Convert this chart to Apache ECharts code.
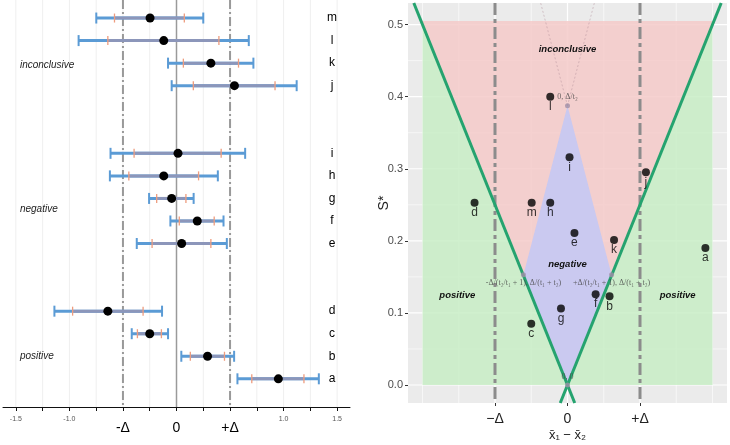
<!DOCTYPE html>
<html><head><meta charset="utf-8">
<script src="https://cdn.jsdelivr.net/npm/echarts@6/dist/echarts.min.js"></script>
<style>html,body{margin:0;padding:0;background:#fff}#c{width:730px;height:445px}</style>
</head><body><div id="c"></div><script>
// ---------- data ----------
const studies   = ['a','b','c','d','e','f','g','h','i','j','k','l','m'];
const studyGroup = ['positive','positive','positive','positive','negative','negative','negative','negative','negative','inconclusive','inconclusive','inconclusive','inconclusive'];
const meanDiff  = [0.951, 0.290, -0.250, -0.641, 0.048, 0.194, -0.045, -0.119, 0.014, 0.541, 0.321, -0.119, -0.247];
const ci95Low   = [0.569, 0.045, -0.418, -1.140, -0.371, -0.057, -0.256, -0.622, -0.616, -0.045, -0.079, -0.914, -0.749];
const ci95High  = [1.329, 0.538, -0.079, -0.135, 0.470, 0.439, 0.160, 0.386, 0.641, 1.122, 0.718, 0.675, 0.250];
const ci80Low   = [0.703, 0.129, -0.365, -0.970, -0.228, 0.026, -0.185, -0.445, -0.396, 0.157, 0.064, -0.641, -0.579];
const ci80High  = [1.190, 0.448, -0.141, -0.312, 0.321, 0.352, 0.088, 0.206, 0.417, 0.920, 0.579, 0.396, 0.073];
const sStar     = [0.190, 0.123, 0.085, 0.253, 0.211, 0.126, 0.106, 0.253, 0.316, 0.295, 0.201, 0.400, 0.253];
const delta = 0.5;

const leftTicks       = [-1.5,-1.25,-1,-0.75,-0.5,-0.25,0,0.25,0.5,0.75,1,1.25,1.5];
const leftLabelValues = [-1.5,-1,-0.5,0,0.5,1,1.5];
const leftLabelTexts  = ['-1.5','-1.0','-Δ','0','+Δ','1.0','1.5'];
const groupNames      = ['inconclusive','negative','positive'];

const rightXTicks  = [-0.5,0,0.5];
const rightXLabels = ['\u2212Δ','0','+Δ'];
const rightXMinor  = [-1,-0.75,-0.25,0.25,0.75,1];
const rightYTicks  = [0,0.1,0.2,0.3,0.4,0.5];
const rightYLabels = ['0.0','0.1','0.2','0.3','0.4','0.5'];
const rightYMinor  = [0.05,0.15,0.25,0.35,0.45];

const positiveRegionLeft  = [[-1,0],[0,0],[-1,0.5]];
const positiveRegionRight = [[1,0],[0,0],[1,0.5]];
const inconclusiveRegion  = [[0,0],[-1,0.5],[-1,0.505],[1,0.505],[1,0.5]];
const negativeRegion      = [[0,0.3875],[-0.304,0.153],[0,0],[0.304,0.153]];
const boundaryLines       = [[[0.05,-0.025],[-1.06,0.53]], [[-0.05,-0.025],[1.06,0.53]]];
const apexExtensions      = [[[0,0.3875],[-0.185,0.53]], [[0,0.3875],[0.185,0.53]]];
const keyPoints     = [[0,0.3875],[-0.304,0.153],[0.304,0.153],[0,0]];
const keyLabels     = ['0, Δ/t\u2082','-Δ/(t\u2082/t\u2081 + 1), Δ/(t\u2081 + t\u2082)','+Δ/(t\u2082/t\u2081 + 1), Δ/(t\u2081 + t\u2082)','0, 0'];
const regionLabels  = ['inconclusive','negative','positive','positive'];

// ---------- layout helpers ----------
const slots = []; let s = 0;
studies.forEach((st, i) => { if (i > 0 && studyGroup[i] !== studyGroup[i-1]) s += 2; slots.push(s); s += 1; });
const groupLabelSlot = {positive: 1, negative: 7.5, inconclusive: 13.9};
const regionLabelPos = [[0,0.465],[0,0.167],[-0.76,0.125],[0.76,0.125]];
const keyLabelPos = ['top','bottom','bottom','top'];

const FONT = 'Liberation Sans';

function refLines(xi, yi, values, vertical, styleFn, z) {
  return {
    type:'custom', xAxisIndex:xi, yAxisIndex:yi, silent:true, z:z,
    data: values.map(v => [v, 0]),
    encode: vertical ? {x:0, y:1} : {x:1, y:0},
    renderItem(params, api) {
      const cs = params.coordSys, v = api.value(0), st = styleFn(v, params.dataIndex);
      if (vertical) {
        const x = api.coord([v, 0])[0];
        return {type:'line', shape:{x1:x, y1:cs.y, x2:x, y2:cs.y+cs.height}, style:st};
      }
      const y = api.coord([0, v])[1];
      return {type:'line', shape:{x1:cs.x, y1:y, x2:cs.x+cs.width, y2:y}, style:st};
    }
  };
}
function polygonSeries(points, fill, z) {
  return {
    type:'custom', xAxisIndex:1, yAxisIndex:1, silent:true, z:z,
    data:[[points[0][0], points[0][1]]], encode:{x:0, y:1},
    renderItem(params, api) {
      return {type:'polygon', shape:{points: points.map(p => api.coord(p))}, style:{fill:fill}};
    }
  };
}
function segSeries(segs, style, z) {
  return {
    type:'custom', xAxisIndex:1, yAxisIndex:1, silent:true, z:z,
    data: segs.map(sg => [sg[0][0], sg[0][1]]), encode:{x:0, y:1},
    renderItem(params, api) {
      const sg = segs[params.dataIndex];
      const a = api.coord(sg[0]), b = api.coord(sg[1]);
      return {type:'line', shape:{x1:a[0], y1:a[1], x2:b[0], y2:b[1]}, style:style};
    }
  };
}
function textSeries(xi, yi, pts, texts, styleFn, z) {
  return {
    type:'custom', xAxisIndex:xi, yAxisIndex:yi, silent:true, z:z,
    data: pts.map(p => [p[0], p[1]]), encode:{x:0, y:1},
    renderItem(params, api) {
      const c = api.coord([api.value(0), api.value(1)]);
      return {type:'text', x:c[0], y:c[1], style:Object.assign({text: texts[params.dataIndex]}, styleFn(params.dataIndex))};
    }
  };
}

const rowData = studies.map((st, i) => [slots[i], ci95Low[i], ci80Low[i], meanDiff[i], ci80High[i], ci95High[i]]);

const option = {
  animation:false,
  textStyle:{fontFamily:FONT},
  grid:[
    {left:3, right:380, top:0, bottom:38, outerBoundsMode:'none', containLabel:false},
    {left:408, right:3, top:3, bottom:42, show:true, backgroundColor:'#EBEBEB', borderWidth:0, outerBoundsMode:'none', containLabel:false}
  ],
  xAxis:[
    {gridIndex:0, type:'value', min:-1.62, max:1.62,
     axisLine:{show:true, onZero:false, lineStyle:{color:'#111', width:1}},
     axisTick:{show:true, customValues:leftTicks, length:4, lineStyle:{color:'#111'}},
     splitLine:{show:false},
     axisLabel:{customValues:leftLabelValues, margin:9, hideOverlap:false,
       formatter:v => { const k = leftLabelValues.findIndex(x => Math.abs(x - v) < 1e-9);
         const t = k >= 0 ? leftLabelTexts[k] : ''; return Math.abs(Math.abs(v) - delta) < 1e-9 || v === 0 ? '{big|' + t + '}' : '{small|' + t + '}'; },
       rich:{small:{fontSize:7, color:'#555', fontFamily:FONT}, big:{fontSize:14, color:'#000', fontFamily:FONT, padding:[5,0,0,0]}}}
    },
    {gridIndex:1, type:'value', min:-1.1, max:1.1,
     axisLine:{show:false, onZero:false},
     axisTick:{show:true, customValues:rightXTicks, length:3, lineStyle:{color:'#333'}},
     splitLine:{show:false},
     axisLabel:{customValues:rightXTicks, margin:9, fontSize:14, color:'#222',
       formatter:v => { const k = rightXTicks.findIndex(x => Math.abs(x - v) < 1e-9); return k >= 0 ? rightXLabels[k] : ''; }},
     name:'x\u0304\u2081 \u2212 x\u0304\u2082', nameLocation:'middle', nameGap:26, nameMoveOverlap:false,
     nameTextStyle:{fontSize:13, color:'#222'}
    }
  ],
  yAxis:[
    {gridIndex:0, type:'value', min:-1.25, max:16.8, show:false},
    {gridIndex:1, type:'value', min:-0.025, max:0.53,
     axisLine:{show:false, onZero:false},
     axisTick:{show:true, customValues:rightYTicks, length:3, lineStyle:{color:'#333'}},
     splitLine:{show:false},
     axisLabel:{customValues:rightYTicks, margin:5, fontSize:11, color:'#4d4d4d',
       formatter:v => { const k = rightYTicks.findIndex(x => Math.abs(x - v) < 1e-9); return k >= 0 ? rightYLabels[k] : ''; }},
     name:'S*', nameLocation:'middle', nameRotate:90, nameGap:17, nameMoveOverlap:false,
     nameTextStyle:{fontSize:14, color:'#222'}
    }
  ],
  series:[
    // ----- left panel -----
    refLines(0, 0, leftTicks, true, () => ({stroke:'#efefef', lineWidth:1}), 1),
    refLines(0, 0, [0], true, () => ({stroke:'#9a9a9a', lineWidth:1.5}), 2),
    refLines(0, 0, [-delta, delta], true, () => ({stroke:'#999', lineWidth:2, lineDash:[9,3,2,3]}), 2),
    {type:'custom', xAxisIndex:0, yAxisIndex:0, z:3, silent:true,
     data: rowData, encode:{x:[1,2,3,4,5], y:0},
     renderItem(params, api) {
       const sl = api.value(0);
       const P = v => api.coord([v, sl]);
       const a = P(api.value(1)), b = P(api.value(2)), m = P(api.value(3)), c = P(api.value(4)), d = P(api.value(5));
       const y = a[1], capH = 5.5, tickH = 4.5;
       const blue = '#5B9BD5', inner = '#8C96BA', orange = '#EE9C7E';
       return {type:'group', children:[
         {type:'line', shape:{x1:a[0], y1:y, x2:d[0], y2:y}, style:{stroke:blue, lineWidth:3}},
         {type:'line', shape:{x1:b[0], y1:y, x2:c[0], y2:y}, style:{stroke:inner, lineWidth:3}},
         {type:'line', shape:{x1:a[0], y1:y-capH, x2:a[0], y2:y+capH}, style:{stroke:blue, lineWidth:2}},
         {type:'line', shape:{x1:d[0], y1:y-capH, x2:d[0], y2:y+capH}, style:{stroke:blue, lineWidth:2}},
         {type:'line', shape:{x1:b[0], y1:y-tickH, x2:b[0], y2:y+tickH}, style:{stroke:orange, lineWidth:1.3}},
         {type:'line', shape:{x1:c[0], y1:y-tickH, x2:c[0], y2:y+tickH}, style:{stroke:orange, lineWidth:1.3}},
         {type:'circle', shape:{cx:m[0], cy:y, r:4.5}, style:{fill:'#000'}}
       ]};
     }},
    textSeries(0, 0, studies.map((st, i) => [1.452, slots[i]]), studies,
      () => ({fontSize:12, fill:'#000', align:'center', verticalAlign:'middle', fontFamily:FONT}), 4),
    textSeries(0, 0, groupNames.map(g => [-1.462, groupLabelSlot[g]]), groupNames,
      () => ({fontSize:10, fontStyle:'italic', fill:'#222', align:'left', verticalAlign:'middle', fontFamily:FONT}), 4),

    // ----- right panel -----
    refLines(1, 1, rightXMinor, true, () => ({stroke:'#fff', lineWidth:0.6}), 1),
    refLines(1, 1, rightYMinor, false, () => ({stroke:'#fff', lineWidth:0.6}), 1),
    refLines(1, 1, rightXTicks, true, () => ({stroke:'#fff', lineWidth:1.2}), 1),
    refLines(1, 1, rightYTicks, false, () => ({stroke:'#fff', lineWidth:1.2}), 1),
    polygonSeries(positiveRegionLeft,  'rgba(200,237,197,0.85)', 2),
    polygonSeries(positiveRegionRight, 'rgba(200,237,197,0.85)', 2),
    polygonSeries(inconclusiveRegion,  'rgba(244,202,201,0.85)', 2),
    polygonSeries(negativeRegion,      'rgba(194,200,246,0.85)', 3),
    segSeries(apexExtensions, {stroke:'rgba(175,140,150,0.45)', lineWidth:1, lineDash:[2,2]}, 4),
    refLines(1, 1, [-delta, delta], true, () => ({stroke:'#8c8c8c', lineWidth:3, lineDash:[12,4,4,4]}), 4),
    segSeries(boundaryLines, {stroke:'#25A36F', lineWidth:3}, 5),
    {type:'scatter', xAxisIndex:1, yAxisIndex:1, z:6, silent:true,
     data: keyPoints.map((p, i) => ({value:p, label:{position:keyLabelPos[i]}})),
     symbolSize:5, itemStyle:{color:'#a08fa8'},
     label:{show:true, distance:2, formatter:p => keyLabels[p.dataIndex], fontSize:8, color:'#444', fontFamily:'Liberation Serif'}},
    textSeries(1, 1, regionLabelPos, regionLabels,
      () => ({fontSize:9.5, fontStyle:'italic', fontWeight:'bold', fill:'#111', align:'center', verticalAlign:'middle', fontFamily:FONT}), 6),
    {type:'scatter', xAxisIndex:1, yAxisIndex:1, z:7, silent:true,
     data: studies.map((st, i) => [meanDiff[i], sStar[i]]),
     symbolSize:8, itemStyle:{color:'#000'},
     label:{show:true, position:'bottom', distance:0, formatter:p => studies[p.dataIndex], fontSize:12, color:'#000'}}
  ]
};
echarts.init(document.getElementById('c')).setOption(option);
</script></body></html>
